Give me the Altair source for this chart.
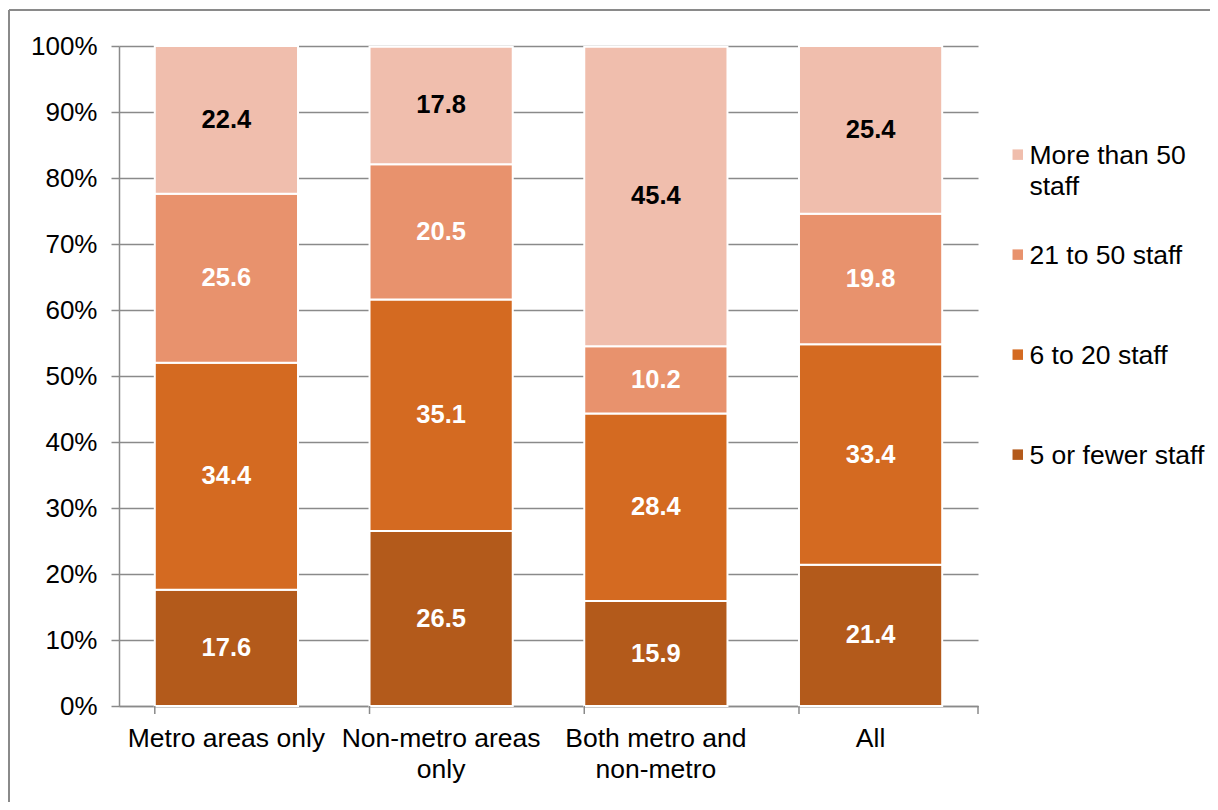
import altair as alt
import pandas as pd

categories = ["Metro areas only", "Non-metro areas only", "Both metro and non-metro", "All"]
sizes = ["5 or fewer staff", "6 to 20 staff", "21 to 50 staff", "More than 50 staff"]
v_5_or_fewer = [17.6, 26.5, 15.9, 21.4]
v_6_to_20 = [34.4, 35.1, 28.4, 33.4]
v_21_to_50 = [25.6, 20.5, 10.2, 19.8]
v_more_50 = [22.4, 17.8, 45.4, 25.4]
colors = ["#F0BEAD", "#E8926D", "#D46A21", "#B35A1B"]  # legend order: More than 50 ... 5 or fewer
legend_order = ["More than 50 staff", "21 to 50 staff", "6 to 20 staff", "5 or fewer staff"]
y_ticks = [0, 10, 20, 30, 40, 50, 60, 70, 80, 90, 100]

series = [v_5_or_fewer, v_6_to_20, v_21_to_50, v_more_50]
rows = []
for r, (s, vals) in enumerate(zip(sizes, series)):
    for c, v in zip(categories, vals):
        rows.append({"category": c, "size": s, "value": v, "rank": r})
df = pd.DataFrame(rows)

W, H = 859, 660
FONT = "Liberation Sans"
GRAY = "#8a8a8a"

x_enc = alt.X(
    "category:N", sort=categories,
    scale=alt.Scale(paddingInner=0.333, paddingOuter=0.1667),
    axis=alt.Axis(
        title=None, labelAngle=0, ticks=False, domainColor=GRAY, domainWidth=1.5,
        labelFont=FONT, labelFontSize=26.5, labelColor="black", labelPadding=19,
        labelLineHeight=31, labelLimit=300,
        labelExpr="datum.label == 'Non-metro areas only' ? ['Non-metro areas', 'only'] : datum.label == 'Both metro and non-metro' ? ['Both metro and', 'non-metro'] : datum.label",
    ),
)

# square symbol shifted so it lines up with the first label line
SYMBOL = "M-0.33,1.17L1.67,1.17L1.67,3.17L-0.33,3.17Z"

bars = alt.Chart(df).mark_bar(stroke="white", strokeWidth=2).encode(
    x=x_enc,
    y=alt.Y(
        "value:Q", stack="zero",
        scale=alt.Scale(domain=[0, 100], nice=False),
        axis=alt.Axis(
            title=None, values=y_ticks, grid=True, gridColor=GRAY, gridWidth=1.5,
            tickColor=GRAY, tickSize=8, tickWidth=1.5, domainColor=GRAY, domainWidth=1.5,
            labelFont=FONT, labelFontSize=26, labelColor="black", labelPadding=14,
            labelExpr="datum.value + '%'",
        ),
    ),
    color=alt.Color(
        "size:N",
        scale=alt.Scale(domain=legend_order, range=colors),
        legend=alt.Legend(
            title=None, orient="none", legendX=882, legendY=84,
            symbolType=SYMBOL, symbolSize=110.25, symbolStrokeWidth=0,
            labelFont=FONT, labelFontSize=26.5, labelColor="black", labelOffset=2,
            labelLimit=300, rowPadding=29, labelBaseline="top",
            labelExpr="datum.label == 'More than 50 staff' ? ['More than 50', 'staff'] : [datum.label, '']",
        ),
    ),
    order=alt.Order("rank:Q", sort="ascending"),
)

labels = alt.Chart(df).transform_stack(
    stack="value", groupby=["category"], sort=[alt.SortField("rank", order="ascending")], as_=["y0", "y1"]
).transform_calculate(
    mid="(datum.y0 + datum.y1) / 2"
).mark_text(font=FONT, fontSize=25.5, fontWeight="bold", baseline="middle").encode(
    x=alt.X("category:N", sort=categories),
    y=alt.Y("mid:Q"),
    text=alt.Text("value:Q", format=".1f"),
    color=alt.condition(alt.datum.size == "More than 50 staff", alt.value("black"), alt.value("white")),
)

# boundary ticks on x axis
tick_df = pd.DataFrame({"category": categories})
xticks = alt.Chart(tick_df).mark_rule(color=GRAY, strokeWidth=1.5).encode(
    x=alt.X("category:N", sort=categories, bandPosition=0),
    y=alt.value(H), y2=alt.value(H + 8),
)
end_tick = alt.Chart(alt.Data(values=[{}])).mark_rule(color=GRAY, strokeWidth=1.5).encode(
    x=alt.value(W), y=alt.value(H), y2=alt.value(H + 8),
)

# outer chart frame
frame_top = alt.Chart(alt.Data(values=[{}])).mark_rule(color=GRAY, strokeWidth=2).encode(
    x=alt.value(-110), x2=alt.value(1200), y=alt.value(-36),
)
frame_left = alt.Chart(alt.Data(values=[{}])).mark_rule(color=GRAY, strokeWidth=2).encode(
    x=alt.value(-110), y=alt.value(-36), y2=alt.value(900),
)

chart = alt.layer(bars, labels, xticks, end_tick, frame_top, frame_left).properties(
    width=W, height=H,
    autosize=alt.AutoSizeParams(type="none"),
    padding={"left": 111, "top": 38, "right": 232, "bottom": 96},
).configure(
    view={"stroke": "transparent"},
    style={"guide-label": {"lineHeight": 31}},
)

chart.save("out.html", embed_options={"renderer": "svg", "actions": False})
